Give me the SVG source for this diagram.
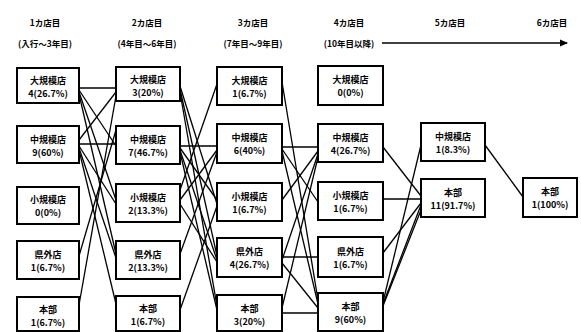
<svg xmlns="http://www.w3.org/2000/svg" width="581" height="332" viewBox="0 0 581 332">
<defs>
<style>
.bg{fill:#fff}
.box{fill:#fff;stroke:#000;stroke-width:2}
.t{font-family:"Noto Sans CJK JP","Noto Sans",sans-serif;font-weight:bold;font-size:9px;fill:#000;text-anchor:middle}
.h{font-family:"Noto Sans CJK JP","Noto Sans",sans-serif;font-weight:bold;font-size:8.5px;fill:#000;text-anchor:middle}
.c line{stroke:#000;stroke-width:1.3;fill:none}
</style>
<marker id="ah" markerWidth="8" markerHeight="8" refX="7" refY="4" orient="auto" markerUnits="userSpaceOnUse">
<path d="M0,0.5 L8,4 L0,7.5 Z" fill="#000"/>
</marker>
</defs>
<rect class="bg" x="0" y="0" width="581" height="332"/>

<g id="headers">
<text class="h" x="45" y="26">1カ店目</text>
<text class="h" x="45" y="47">(入行～3年目)</text>
<text class="h" x="147" y="26">2カ店目</text>
<text class="h" x="147" y="47">(4年目～6年目)</text>
<text class="h" x="253" y="26">3カ店目</text>
<text class="h" x="253" y="47">(7年目～9年目)</text>
<text class="h" x="349" y="26">4カ店目</text>
<text class="h" x="349" y="47">(10年目以降)</text>
<text class="h" x="450" y="26">5カ店目</text>
<text class="h" x="552" y="26">6カ店目</text>
<line x1="382" y1="43" x2="567" y2="43" stroke="#000" stroke-width="1.5" marker-end="url(#ah)"/>
</g>

<g class="c" id="connectors">
<!-- gap 1 -->
<line x1="79" y1="88" x2="116" y2="88"/>
<line x1="79" y1="90" x2="116" y2="146"/>
<line x1="79" y1="92" x2="116" y2="200"/>
<line x1="79" y1="94" x2="116" y2="254"/>
<line x1="79" y1="140" x2="116" y2="92"/>
<line x1="79" y1="144" x2="116" y2="144"/>
<line x1="79" y1="146" x2="116" y2="204"/>
<line x1="79" y1="148" x2="116" y2="258"/>
<line x1="79" y1="150" x2="116" y2="304"/>
<line x1="79" y1="256" x2="116" y2="130"/>
<line x1="79" y1="305" x2="116" y2="96"/>
<!-- gap 2 -->
<line x1="180" y1="86" x2="217" y2="204"/>
<line x1="180" y1="89" x2="217" y2="256"/>
<line x1="180" y1="92" x2="217" y2="306"/>
<line x1="180" y1="146" x2="217" y2="146"/>
<line x1="180" y1="148" x2="217" y2="200"/>
<line x1="180" y1="150" x2="217" y2="260"/>
<line x1="180" y1="152" x2="217" y2="310"/>
<line x1="180" y1="190" x2="217" y2="84"/>
<line x1="180" y1="200" x2="217" y2="150"/>
<line x1="180" y1="204" x2="217" y2="262"/>
<line x1="180" y1="254" x2="217" y2="152"/>
<line x1="180" y1="310" x2="217" y2="206"/>
<!-- gap 3 -->
<line x1="282" y1="82" x2="318" y2="300"/>
<line x1="282" y1="147" x2="318" y2="147"/>
<line x1="282" y1="149" x2="318" y2="202"/>
<line x1="282" y1="151" x2="318" y2="304"/>
<line x1="282" y1="200" x2="318" y2="151"/>
<line x1="282" y1="257" x2="318" y2="257"/>
<line x1="282" y1="260" x2="318" y2="154"/>
<line x1="282" y1="263" x2="318" y2="308"/>
<line x1="282" y1="313" x2="318" y2="313"/>
<line x1="282" y1="308" x2="318" y2="157"/>
<!-- gap 4 -->
<line x1="383" y1="147" x2="421" y2="196"/>
<line x1="383" y1="199" x2="421" y2="199"/>
<line x1="383" y1="253" x2="421" y2="203"/>
<line x1="383" y1="302" x2="421" y2="145"/>
<line x1="383" y1="304" x2="421" y2="205"/>
<line x1="383" y1="306" x2="421" y2="210"/>
<!-- gap 5 -->
<line x1="485" y1="145" x2="523" y2="197"/>
</g>

<g id="c1-large"><rect class="box" x="17" y="68" width="62" height="35"/><text class="t" x="48" y="84">大規模店</text><text class="t" x="48" y="97">4(26.7%)</text></g>
<g id="c1-mid"><rect class="box" x="17" y="126" width="62" height="37"/><text class="t" x="48" y="143">中規模店</text><text class="t" x="48" y="156">9(60%)</text></g>
<g id="c1-small"><rect class="box" x="17" y="187" width="62" height="37"/><text class="t" x="48" y="203">小規模店</text><text class="t" x="48" y="216">0(0%)</text></g>
<g id="c1-pref"><rect class="box" x="17" y="241" width="62" height="38"/><text class="t" x="48" y="258">県外店</text><text class="t" x="48" y="271">1(6.7%)</text></g>
<g id="c1-hq"><rect class="box" x="17" y="297" width="62" height="34"/><text class="t" x="48" y="313">本部</text><text class="t" x="48" y="326">1(6.7%)</text></g>

<g id="c2-large"><rect class="box" x="116" y="67" width="64" height="34"/><text class="t" x="148" y="83">大規模店</text><text class="t" x="148" y="96">3(20%)</text></g>
<g id="c2-mid"><rect class="box" x="116" y="126" width="64" height="38"/><text class="t" x="148" y="143">中規模店</text><text class="t" x="148" y="156">7(46.7%)</text></g>
<g id="c2-small"><rect class="box" x="116" y="184" width="64" height="38"/><text class="t" x="148" y="201">小規模店</text><text class="t" x="148" y="214">2(13.3%)</text></g>
<g id="c2-pref"><rect class="box" x="116" y="241" width="64" height="38"/><text class="t" x="148" y="258">県外店</text><text class="t" x="148" y="271">2(13.3%)</text></g>
<g id="c2-hq"><rect class="box" x="116" y="296" width="64" height="35"/><text class="t" x="148" y="312">本部</text><text class="t" x="148" y="325">1(6.7%)</text></g>

<g id="c3-large"><rect class="box" x="217" y="67" width="65" height="38"/><text class="t" x="249.5" y="84">大規模店</text><text class="t" x="249.5" y="97">1(6.7%)</text></g>
<g id="c3-mid"><rect class="box" x="217" y="124" width="65" height="39"/><text class="t" x="249.5" y="141">中規模店</text><text class="t" x="249.5" y="154">6(40%)</text></g>
<g id="c3-small"><rect class="box" x="217" y="183" width="65" height="38"/><text class="t" x="249.5" y="200">小規模店</text><text class="t" x="249.5" y="213">1(6.7%)</text></g>
<g id="c3-pref"><rect class="box" x="217" y="238" width="65" height="39"/><text class="t" x="249.5" y="255">県外店</text><text class="t" x="249.5" y="268">4(26.7%)</text></g>
<g id="c3-hq"><rect class="box" x="217" y="295" width="65" height="36"/><text class="t" x="249.5" y="312">本部</text><text class="t" x="249.5" y="325">3(20%)</text></g>

<g id="c4-large"><rect class="box" x="318" y="66" width="65" height="39"/><text class="t" x="350.5" y="83">大規模店</text><text class="t" x="350.5" y="96">0(0%)</text></g>
<g id="c4-mid"><rect class="box" x="318" y="124" width="65" height="38"/><text class="t" x="350.5" y="141">中規模店</text><text class="t" x="350.5" y="154">4(26.7%)</text></g>
<g id="c4-small"><rect class="box" x="318" y="182" width="65" height="38"/><text class="t" x="350.5" y="199">小規模店</text><text class="t" x="350.5" y="212">1(6.7%)</text></g>
<g id="c4-pref"><rect class="box" x="318" y="237" width="65" height="40"/><text class="t" x="350.5" y="255">県外店</text><text class="t" x="350.5" y="268">1(6.7%)</text></g>
<g id="c4-hq"><rect class="box" x="318" y="293" width="65" height="38"/><text class="t" x="350.5" y="310">本部</text><text class="t" x="350.5" y="323">9(60%)</text></g>

<g id="c5-mid"><rect class="box" x="421" y="123" width="64" height="38"/><text class="t" x="453" y="140">中規模店</text><text class="t" x="453" y="153">1(8.3%)</text></g>
<g id="c5-hq"><rect class="box" x="421" y="179" width="64" height="38"/><text class="t" x="453" y="196">本部</text><text class="t" x="453" y="209">11(91.7%)</text></g>

<g id="c6-hq"><rect class="box" x="523" y="178" width="54" height="39"/><text class="t" x="550" y="195">本部</text><text class="t" x="550" y="208">1(100%)</text></g>
</svg>
